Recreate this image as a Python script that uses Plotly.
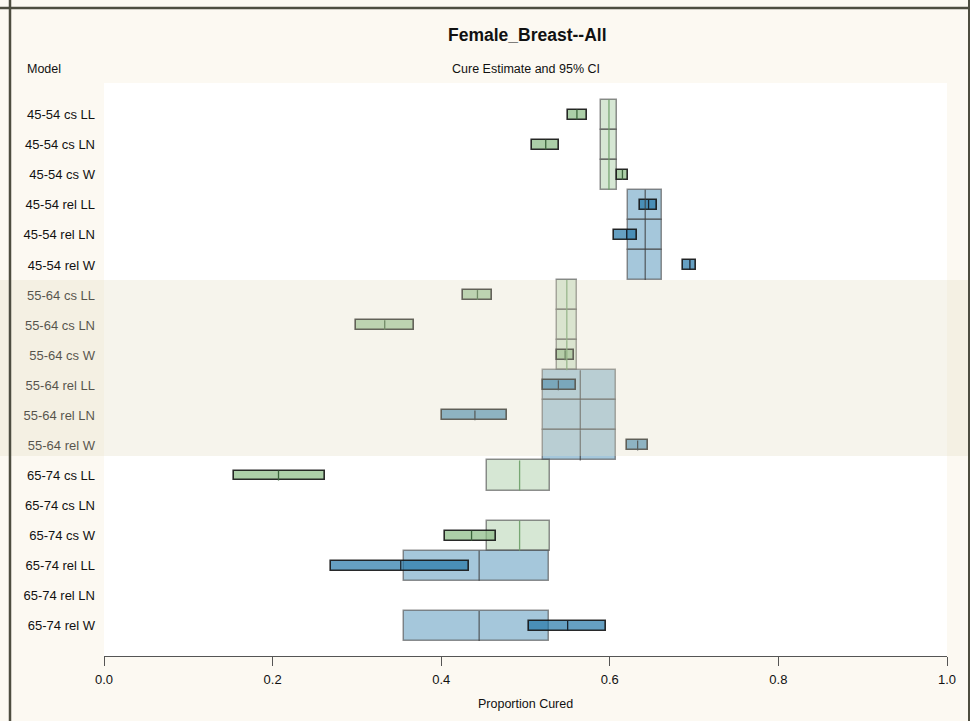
import plotly.graph_objects as go

# Model rows, top to bottom
models = [
    "45-54 cs LL", "45-54 cs LN", "45-54 cs W",
    "45-54 rel LL", "45-54 rel LN", "45-54 rel W",
    "55-64 cs LL", "55-64 cs LN", "55-64 cs W",
    "55-64 rel LL", "55-64 rel LN", "55-64 rel W",
    "65-74 cs LL", "65-74 cs LN", "65-74 cs W",
    "65-74 rel LL", "65-74 rel LN", "65-74 rel W",
]
# Cure type of each row (cs = cause-specific, rel = relative survival)
cure_type = ["cs", "cs", "cs", "rel", "rel", "rel"] * 3
# Group (age x cure type) of each row
group = ["45-54 cs"] * 3 + ["45-54 rel"] * 3 + ["55-64 cs"] * 3 + \
        ["55-64 rel"] * 3 + ["65-74 cs"] * 3 + ["65-74 rel"] * 3

# Per-model cure estimate and 95% CI (None = model not fitted)
model_est = [0.561, 0.524, 0.615, 0.646, 0.620, 0.695,
             0.443, 0.333, 0.547, 0.539, 0.440, 0.633,
             0.207, None, 0.436, 0.352, None, 0.550]
model_lo = [0.551, 0.508, 0.608, 0.636, 0.605, 0.687,
            0.426, 0.299, 0.537, 0.521, 0.401, 0.620,
            0.154, None, 0.404, 0.269, None, 0.504]
model_hi = [0.573, 0.540, 0.622, 0.656, 0.632, 0.702,
            0.460, 0.368, 0.558, 0.560, 0.478, 0.645,
            0.262, None, 0.465, 0.433, None, 0.595]

# Combined estimate and 95% CI for each group
groups = ["45-54 cs", "45-54 rel", "55-64 cs", "55-64 rel", "65-74 cs", "65-74 rel"]
group_est = [0.599, 0.642, 0.549, 0.565, 0.493, 0.445]
group_lo = [0.590, 0.622, 0.537, 0.521, 0.454, 0.356]
group_hi = [0.608, 0.662, 0.561, 0.607, 0.529, 0.528]

x_ticks = [0.0, 0.2, 0.4, 0.6, 0.8, 1.0]
x_tick_text = ["0.0", "0.2", "0.4", "0.6", "0.8", "1.0"]

STYLE = {
    "cs": dict(big="rgba(140,188,135,0.36)", big_mid="rgba(110,160,105,0.9)",
               small="rgba(140,188,135,0.72)", small_mid="rgb(60,100,60)"),
    "rel": dict(big="rgba(30,115,165,0.40)", big_mid="rgba(60,60,60,0.75)",
                small="rgba(30,115,165,0.68)", small_mid="rgb(25,35,45)"),
}
BIG_H = 1.0
SMALL_H = 0.33

W, H = 979, 721
ML, MR, MT, MB = 104, 32, 83, 65
PW, PH = W - ML - MR, H - MT - MB


def px_x(px):
    return (px - ML) / PW


def px_y(py):
    return (H - MB - py) / PH


fig = go.Figure()

row_idx = list(range(len(models)))
gi = {g: k for k, g in enumerate(groups)}

# Group boxes (full row height) behind the per-model boxes
for ct in ["cs", "rel"]:
    rows = [i for i in row_idx if cure_type[i] == ct and model_est[i] is not None]
    lo = [group_lo[gi[group[i]]] for i in rows]
    hi = [group_hi[gi[group[i]]] for i in rows]
    est = [group_est[gi[group[i]]] for i in rows]
    fig.add_trace(go.Bar(
        orientation="h", y=rows, base=lo, x=[h - l for l, h in zip(lo, hi)],
        width=BIG_H, marker=dict(color=STYLE[ct]["big"],
                                 line=dict(color="rgba(85,85,85,0.65)", width=1.5)),
        hoverinfo="skip", showlegend=False))
    mx, my = [], []
    for r, e in zip(rows, est):
        mx += [e, e, None]
        my += [r - BIG_H / 2, r + BIG_H / 2, None]
    fig.add_trace(go.Scatter(x=mx, y=my, mode="lines",
                             line=dict(color=STYLE[ct]["big_mid"], width=1.3),
                             hoverinfo="skip", showlegend=False))

# Per-model boxes
for ct in ["cs", "rel"]:
    rows = [i for i in row_idx if cure_type[i] == ct and model_est[i] is not None]
    lo = [model_lo[i] for i in rows]
    hi = [model_hi[i] for i in rows]
    est = [model_est[i] for i in rows]
    fig.add_trace(go.Bar(
        orientation="h", y=rows, base=lo, x=[h - l for l, h in zip(lo, hi)],
        width=SMALL_H, marker=dict(color=STYLE[ct]["small"],
                                   line=dict(color="rgba(20,20,20,0.9)", width=1.6)),
        hoverinfo="skip", showlegend=False))
    mx, my = [], []
    for r, e in zip(rows, est):
        mx += [e, e, None]
        my += [r - SMALL_H / 2, r + SMALL_H / 2, None]
    fig.add_trace(go.Scatter(x=mx, y=my, mode="lines",
                             line=dict(color=STYLE[ct]["small_mid"], width=1.3),
                             hoverinfo="skip", showlegend=False))

FRAME = "#4d4d40"
shapes = [
    # white strip at the far right of the page
    dict(type="rect", xref="paper", yref="paper", x0=px_x(969), x1=px_x(W + 5),
         y0=px_y(H + 5), y1=px_y(-5), fillcolor="white", line_width=0, layer="below"),
    # shaded band over the 55-64 rows
    dict(type="rect", xref="paper", yref="paper", x0=px_x(0), x1=px_x(969),
         y0=px_y(456), y1=px_y(280), fillcolor="rgba(226,222,196,0.32)",
         line_width=0, layer="above"),
    # page frame
    dict(type="line", xref="paper", yref="paper", x0=px_x(0), x1=px_x(969),
         y0=px_y(8), y1=px_y(8), line=dict(color=FRAME, width=2.5)),
    dict(type="line", xref="paper", yref="paper", x0=px_x(10), x1=px_x(10),
         y0=px_y(0), y1=px_y(H + 2), line=dict(color=FRAME, width=2.5)),
    dict(type="line", xref="paper", yref="paper", x0=px_x(969), x1=px_x(969),
         y0=px_y(0), y1=px_y(H + 2), line=dict(color=FRAME, width=2)),
]

FONT = "Liberation Sans, Arial, sans-serif"
annotations = [
    dict(text="<b>Female_Breast--All</b>", x=px_x(527), y=px_y(35), xref="paper",
         yref="paper", showarrow=False, xanchor="center", yanchor="middle",
         font=dict(size=17.5, color="#111", family=FONT)),
    dict(text="Cure Estimate and 95% CI", x=px_x(526), y=px_y(69), xref="paper",
         yref="paper", showarrow=False, xanchor="center", yanchor="middle",
         font=dict(size=12.5, color="#111", family=FONT)),
    dict(text="Model", x=px_x(25), y=px_y(69), xref="paper", yref="paper",
         showarrow=False, xanchor="left", yanchor="middle",
         font=dict(size=12.5, color="#111", family=FONT)),
    dict(text="Proportion Cured", x=px_x(525), y=px_y(704), xref="paper",
         yref="paper", showarrow=False, xanchor="center", yanchor="middle",
         font=dict(size=12.5, color="#111", family=FONT)),
]

fig.update_layout(
    width=W, height=H,
    margin=dict(l=ML, r=MR, t=MT, b=MB, pad=0),
    paper_bgcolor="#fcf9f2", plot_bgcolor="white",
    barmode="overlay", bargap=0,
    font=dict(family=FONT, size=13, color="#111"),
    shapes=shapes, annotations=annotations,
    xaxis=dict(range=[0, 1], tickvals=x_ticks, ticktext=x_tick_text,
               showgrid=False, zeroline=False, showline=True, linecolor="#555",
               linewidth=1, ticks="outside", ticklen=9, tickcolor="#555",
               tickfont=dict(size=13), ticklabelstandoff=2, fixedrange=True),
    yaxis=dict(range=[18.0, -1.05], tickvals=row_idx, ticktext=models,
               showgrid=False, zeroline=False, showline=False, ticks="",
               tickfont=dict(size=13), ticklabelstandoff=8, fixedrange=True),
)

fig.write_html("out.html")
